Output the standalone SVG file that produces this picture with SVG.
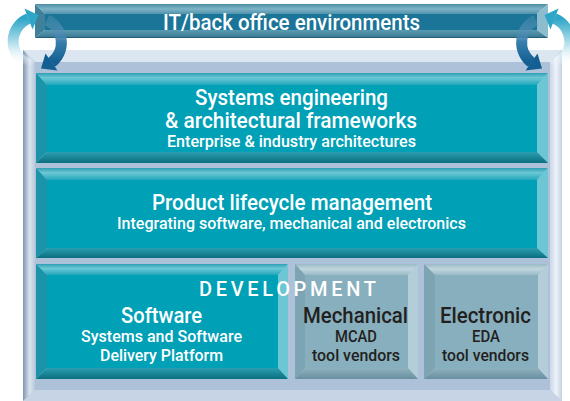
<svg xmlns="http://www.w3.org/2000/svg" width="570" height="401" viewBox="0 0 570 401">
<defs>
<linearGradient id="lightArc" x1="0" y1="1" x2="0" y2="0">
<stop offset="0" stop-color="#ffffff" stop-opacity="0"/>
<stop offset="0.35" stop-color="#d6eef5"/>
<stop offset="1" stop-color="#2fa6c8"/>
</linearGradient>
<linearGradient id="darkArc" x1="0" y1="0" x2="0" y2="1">
<stop offset="0" stop-color="#6f9fc0" stop-opacity="0.3"/>
<stop offset="0.5" stop-color="#3a7fae"/>
<stop offset="1" stop-color="#135f92"/>
</linearGradient>
<linearGradient id="frameL" x1="0" y1="0" x2="1" y2="0">
<stop offset="0" stop-color="#7f94ae"/>
<stop offset="0.55" stop-color="#d9e3ef"/>
<stop offset="1" stop-color="#b9c9dc"/>
</linearGradient>
<linearGradient id="frameR" x1="0" y1="0" x2="1" y2="0">
<stop offset="0" stop-color="#c9d7e7"/>
<stop offset="0.5" stop-color="#eef3f9"/>
<stop offset="1" stop-color="#c3d2e3"/>
</linearGradient>
<linearGradient id="tealTop" x1="0" y1="0" x2="0" y2="1">
<stop offset="0" stop-color="#2f9fb3"/>
<stop offset="0.4" stop-color="#6cc8d6"/>
<stop offset="1" stop-color="#21a7bb"/>
</linearGradient>
<linearGradient id="tealBot" x1="0" y1="0" x2="0" y2="1">
<stop offset="0" stop-color="#2a9eb0"/>
<stop offset="1" stop-color="#0b6f80"/>
</linearGradient>
<linearGradient id="grayTop" x1="0" y1="0" x2="0" y2="1">
<stop offset="0" stop-color="#9bb9c6"/>
<stop offset="0.45" stop-color="#c1d7df"/>
<stop offset="1" stop-color="#98bac7"/>
</linearGradient>
<linearGradient id="grayBot" x1="0" y1="0" x2="0" y2="1">
<stop offset="0" stop-color="#8fb2c0"/>
<stop offset="1" stop-color="#6a8f9e"/>
</linearGradient>
<linearGradient id="itTop" x1="0" y1="0" x2="0" y2="1">
<stop offset="0" stop-color="#4d8ea6"/>
<stop offset="0.5" stop-color="#7fb3c6"/>
<stop offset="1" stop-color="#4f93ab"/>
</linearGradient>
<linearGradient id="itBot" x1="0" y1="0" x2="0" y2="1">
<stop offset="0" stop-color="#5a9bb2"/>
<stop offset="0.8" stop-color="#3f7f98"/>
<stop offset="1" stop-color="#13506a"/>
</linearGradient>
</defs>
<style>
.t{font-family:Roboto,"Liberation Sans",Arial,sans-serif;text-anchor:middle;fill:#ffffff}
.big{font-size:22px;font-weight:500}
.sm{font-size:16.5px;font-weight:500}
.dk{fill:#231f20}
.teal-in{fill:#00a0b6}
.teal-t{fill:url(#tealTop)}
.teal-l{fill:#1b93a8}
.teal-r{fill:#6cc6d4}
.teal-b{fill:url(#tealBot)}
.gray-in{fill:#87afbe}
.gray-t{fill:url(#grayTop)}
.gray-l{fill:#7da4b3}
.gray-r{fill:#b3ced8}
.gray-b{fill:url(#grayBot)}
.it-in{fill:#1b7598}
.it-t{fill:url(#itTop)}
.it-l{fill:#3f819b}
.it-r{fill:#8cbccd}
.it-b{fill:url(#itBot)}
</style>

<g id="frame">
<rect x="23" y="50" width="539" height="351" fill="#adc1d9"/>
<polygon points="23,50 562,50 550,62 35,62" fill="#dce6f1"/>
<polygon points="23,50 35,62 35,390 23,401" fill="url(#frameL)"/>
<polygon points="562,50 550,62 550,390 562,401" fill="url(#frameR)"/>
<polygon points="23,401 35,390 550,390 562,401" fill="#c6d4e5"/>
</g>

<g id="it-box">
<polygon class="it-t" points="35,4 548,4 537,14 45,14"/>
<polygon class="it-l" points="35,4 45,14 45,30 35,38"/>
<polygon class="it-r" points="548,4 537,14 537,30 548,38"/>
<polygon class="it-b" points="35,38 45,30 537,30 548,38"/>
<rect class="it-in" x="45" y="14" width="492" height="16"/>
<text class="t" x="291.5" y="30" font-size="21.5" font-weight="500" textLength="257" lengthAdjust="spacingAndGlyphs">IT/back office environments</text>
</g>

<g id="systems-engineering">
<polygon class="teal-t" points="36,73 548,73 537,85 47,85"/>
<polygon class="teal-l" points="36,73 47,85 47,152 36,163"/>
<polygon class="teal-r" points="548,73 537,85 537,152 548,163"/>
<polygon class="teal-b" points="36,163 47,152 537,152 548,163"/>
<rect class="teal-in" x="47" y="85" width="490" height="67"/>
<text class="t big" x="291.5" y="105" textLength="193" lengthAdjust="spacingAndGlyphs">Systems engineering</text>
<text class="t big" x="291" y="128" textLength="252" lengthAdjust="spacingAndGlyphs">&amp; architectural frameworks</text>
<text class="t sm" x="291.5" y="147" textLength="249" lengthAdjust="spacingAndGlyphs">Enterprise &amp; industry architectures</text>
</g>

<g id="plm">
<polygon class="teal-t" points="36,168 548,168 537,180 47,180"/>
<polygon class="teal-l" points="36,168 47,180 47,248 36,258"/>
<polygon class="teal-r" points="548,168 537,180 537,248 548,258"/>
<polygon class="teal-b" points="36,258 47,248 537,248 548,258"/>
<rect class="teal-in" x="47" y="180" width="490" height="68"/>
<text class="t big" x="292" y="210" textLength="280" lengthAdjust="spacingAndGlyphs">Product lifecycle management</text>
<text class="t sm" x="291.5" y="229" textLength="349" lengthAdjust="spacingAndGlyphs">Integrating software, mechanical and electronics</text>
</g>

<g id="software">
<polygon class="teal-t" points="36,264 288,264 278,275 47,275"/>
<polygon class="teal-l" points="36,264 47,275 47,368 36,379"/>
<polygon class="teal-r" points="288,264 278,275 278,368 288,379"/>
<polygon class="teal-b" points="36,379 47,368 278,368 288,379"/>
<rect class="teal-in" x="47" y="275" width="231" height="93"/>
<text class="t big" x="161.5" y="323" textLength="81" lengthAdjust="spacingAndGlyphs">Software</text>
<text class="t sm" x="161.5" y="342" textLength="161" lengthAdjust="spacingAndGlyphs">Systems and Software</text>
<text class="t sm" x="161.5" y="361" textLength="123" lengthAdjust="spacingAndGlyphs">Delivery Platform</text>
</g>

<g id="mechanical">
<polygon class="gray-t" points="295,264 418,264 408,275 305,275"/>
<polygon class="gray-l" points="295,264 305,275 305,368 295,379"/>
<polygon class="gray-r" points="418,264 408,275 408,368 418,379"/>
<polygon class="gray-b" points="295,379 305,368 408,368 418,379"/>
<rect class="gray-in" x="305" y="275" width="103" height="93"/>
<text class="t big dk" x="355.5" y="323" textLength="105" lengthAdjust="spacingAndGlyphs">Mechanical</text>
<text class="t sm dk" x="356" y="342" textLength="42" lengthAdjust="spacingAndGlyphs">MCAD</text>
<text class="t sm dk" x="356" y="361" textLength="88" lengthAdjust="spacingAndGlyphs">tool vendors</text>
</g>

<g id="electronic">
<polygon class="gray-t" points="424,264 548,264 538,275 435,275"/>
<polygon class="gray-l" points="424,264 435,275 435,368 424,379"/>
<polygon class="gray-r" points="548,264 538,275 538,368 548,379"/>
<polygon class="gray-b" points="424,379 435,368 538,368 548,379"/>
<rect class="gray-in" x="435" y="275" width="103" height="93"/>
<text class="t big dk" x="485.5" y="323" textLength="91" lengthAdjust="spacingAndGlyphs">Electronic</text>
<text class="t sm dk" x="486" y="342" textLength="28" lengthAdjust="spacingAndGlyphs">EDA</text>
<text class="t sm dk" x="485.5" y="361" textLength="87" lengthAdjust="spacingAndGlyphs">tool vendors</text>
</g>

<g id="development-label">
<text class="t" x="291" y="296" font-size="20" font-weight="500" letter-spacing="7" textLength="184" lengthAdjust="spacing">DEVELOPMENT</text>
</g>

<g id="connectors">
<g id="cycle-left">
<path d="M32.8,66 A25,25 0 0 1 28.5,18.5" fill="none" stroke="url(#lightArc)" stroke-width="11"/>
<polygon points="24.5,8.5 32.5,29.5 38.5,15" fill="#2fa6c8"/>
<path d="M47,20 A25,25 0 0 1 51.5,62.5" fill="none" stroke="url(#darkArc)" stroke-width="11"/>
<polygon points="57.5,70.5 45.5,53.5 41,68.5" fill="#135f92"/>
</g>
<g id="cycle-right" transform="translate(583,0) scale(-1,1)">
<path d="M32.8,66 A25,25 0 0 1 28.5,18.5" fill="none" stroke="url(#lightArc)" stroke-width="11"/>
<polygon points="24.5,8.5 32.5,29.5 38.5,15" fill="#2fa6c8"/>
<path d="M47,20 A25,25 0 0 1 51.5,62.5" fill="none" stroke="url(#darkArc)" stroke-width="11"/>
<polygon points="57.5,70.5 45.5,53.5 41,68.5" fill="#135f92"/>
</g>
</g>
</svg>
